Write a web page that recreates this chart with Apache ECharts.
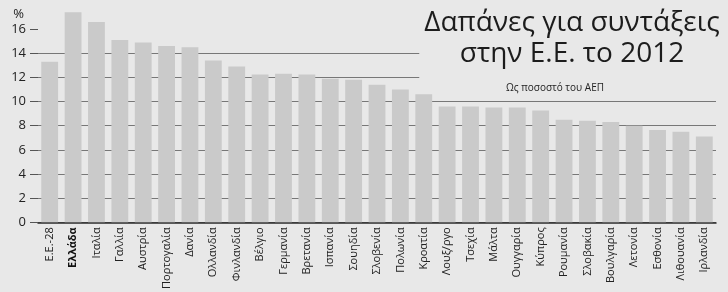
<!DOCTYPE html>
<html>
<head>
<meta charset="utf-8">
<script src="https://cdn.jsdelivr.net/npm/echarts@6/dist/echarts.min.js"></script>
<style>
  html, body { margin: 0; padding: 0; background: #e8e8e8; }
  #container { width: 728px; height: 292px; }
</style>
</head>
<body>
<div id="container"></div>
<script>
// χώρες (κατηγορίες)
var countries = ['Ε.Ε.-28', 'Ελλάδα', 'Ιταλία', 'Γαλλία', 'Αυστρία', 'Πορτογαλία', 'Δανία',
  'Ολλανδία', 'Φινλανδία', 'Βέλγιο', 'Γερμανία', 'Βρετανία', 'Ισπανία', 'Σουηδία',
  'Σλοβενία', 'Πολωνία', 'Κροατία', 'Λουξ/ργο', 'Τσεχία', 'Μάλτα', 'Ουγγαρία',
  'Κύπρος', 'Ρουμανία', 'Σλοβακία', 'Βουλγαρία', 'Λετονία', 'Εσθονία', 'Λιθουανία', 'Ιρλανδία'];
// % του ΑΕΠ
var pensions = [13.3, 17.4, 16.6, 15.1, 14.9, 14.6, 14.5, 13.4, 12.9, 12.25, 12.3, 12.25,
  11.9, 11.8, 11.4, 11.0, 10.6, 9.6, 9.6, 9.5, 9.5, 9.25, 8.5, 8.4, 8.3, 8.0, 7.65, 7.5, 7.1];
var yTicks = [0, 2, 4, 6, 8, 10, 12, 14, 16];

var myChart = echarts.init(document.getElementById('container'));
var bg = '#e8e8e8';

var option = {
  backgroundColor: bg,
  animation: false,
  textStyle: { fontFamily: 'Open Sans' },
  title: [{
    text: 'Δαπάνες για συντάξεις\nστην Ε.Ε. το 2012',
    left: 567,
    top: 3,
    padding: [5, 5, 12, 5],
    textAlign: 'center',
    backgroundColor: bg,
    textStyle: { fontSize: 28, lineHeight: 31, fontWeight: 'normal', color: '#1c1c1c', fontFamily: 'Open Sans' }
  }, {
    // υπότιτλος
    text: 'Ως ποσοστό του ΑΕΠ',
    left: 549,
    top: 76,
    padding: [7, 6, 3, 6],
    textAlign: 'center',
    backgroundColor: bg,
    textStyle: { fontSize: 10, fontWeight: 'normal', color: '#222', fontFamily: 'Open Sans' }
  }],
  grid: { left: 38, right: 12, top: 5, bottom: 61 },
  xAxis: {
    type: 'category',
    data: countries,
    axisLine: { lineStyle: { color: '#2a2a2a', width: 1.5 } },
    axisTick: { show: false },
    axisLabel: {
      rotate: 90,
      interval: 0,
      margin: 5,
      fontSize: 11,
      color: '#222',
      formatter: function (v, i) { return i === 1 ? '{b|' + v + '}' : v; },
      rich: { b: { fontWeight: 'bold', fontSize: 11, color: '#111' } }
    }
  },
  yAxis: {
    type: 'value',
    min: 0,
    max: 18,
    interval: 2,
    name: '%',
    nameLocation: 'end',
    nameGap: -3,
    nameTextStyle: { align: 'right', verticalAlign: 'top', padding: [0, 14, 0, 0], fontSize: 13, color: '#222' },
    axisLine: { show: false },
    axisTick: { show: true, length: 8, customValues: yTicks, lineStyle: { color: '#555' } },
    axisLabel: { customValues: yTicks, fontSize: 13, color: '#222', margin: 12 },
    splitLine: { show: true, showMaxLine: false, lineStyle: { color: '#777', width: 1 } }
  },
  series: [{
    type: 'bar',
    data: pensions,
    barCategoryGap: '28%',
    itemStyle: { color: '#cacaca' }
  }]
};

myChart.setOption(option);
</script>
</body>
</html>
